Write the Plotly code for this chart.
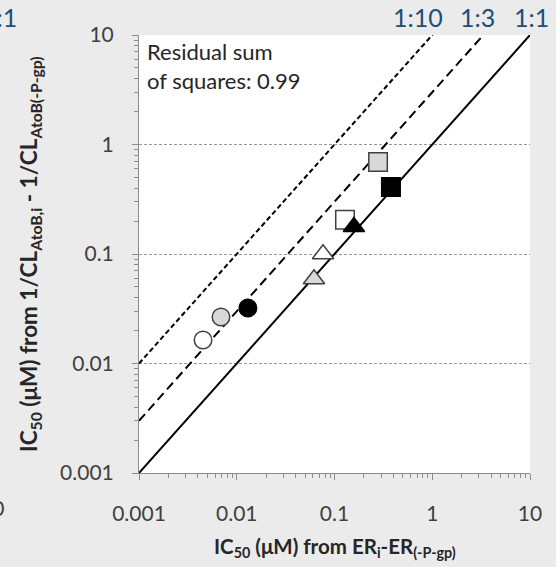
import plotly.graph_objects as go

# ---- data ----
circle_x = [0.00452, 0.0069, 0.0130]
circle_y = [0.0164, 0.0266, 0.0321]
triangle_x = [0.0617, 0.0763, 0.158]
triangle_y = [0.059, 0.100, 0.177]
square_x = [0.128, 0.378, 0.279]
square_y = [0.205, 0.409, 0.692]
fills = {"circle": ["white", "#d9d9d9", "black"],
         "triangle": ["#d9d9d9", "white", "black"],
         "square": ["white", "black", "#d9d9d9"]}

ratio_labels = ["1:10", "1:3", "1:1"]
ratios = [10, 3, 1]
ref_x = [0.001, 10]

tick_vals = [0.001, 0.01, 0.1, 1, 10]
tick_text = ["0.001", "0.01", "0.1", "1", "10"]
minor_vals = [m * 10 ** e for e in range(-3, 1) for m in range(2, 10)]

FONT = "Lato"
TICK_COLOR = "#404040"
BLUE = "#1f4e79"

fig = go.Figure()

dashes = {10: "5px,3px", 3: "9px,5px", 1: "solid"}
for r in ratios:
    fig.add_trace(go.Scatter(x=ref_x, y=[r * v for v in ref_x], mode="lines",
                             line=dict(color="black", width=2, dash=dashes[r]),
                             showlegend=False, hoverinfo="skip"))

def outline(f):
    return "black" if f == "black" else "#404040"

for name, xs, ys, sym, size in [("circle", circle_x, circle_y, "circle", 17.5),
                                ("square", square_x, square_y, "square", 18.5),
                                ("triangle", triangle_x, triangle_y, "triangle-up", 18.5)]:
    fig.add_trace(go.Scatter(x=xs, y=ys, mode="markers",
                             marker=dict(symbol=sym, size=size, color=fills[name],
                                         line=dict(color=[outline(f) for f in fills[name]], width=1.5)),
                             showlegend=False))

axis_common = dict(type="log", range=[-3, 1], tickvals=tick_vals, ticktext=tick_text,
                   ticks="outside", ticklen=6, tickcolor="#8c8c8c",
                   showline=True, linecolor="#8c8c8c", linewidth=1,
                   tickfont=dict(family=FONT, size=21, color=TICK_COLOR),
                   minor=dict(tickvals=minor_vals, ticks="outside", ticklen=4,
                              tickcolor="#8c8c8c", showgrid=False),
                   zeroline=False, mirror=False)

fig.update_xaxes(**axis_common, showgrid=False, ticklabelstandoff=16)
fig.update_yaxes(**axis_common, showgrid=True, gridcolor="#9a9a9a", griddash="3px,2px",
                 gridwidth=1, ticklabelstandoff=14)

W, H = 556, 567
L, R, T, B = 139, 26, 35, 94
pw, ph = W - L - R, H - T - B

def px(x):
    return (x - L) / pw

def py(y):
    return 1 - (y - T) / ph

annotations = []
# ratio labels above plot
for lab, cx in zip(ratio_labels, [418, 477, 531]):
    annotations.append(dict(text=lab, x=px(cx), y=py(17), xref="paper", yref="paper",
                            showarrow=False, xanchor="center", yanchor="middle",
                            font=dict(family=FONT, size=25, color=BLUE)))
# clipped neighbour panel remnants
annotations.append(dict(text="1:1", x=px(19), y=py(17), xref="paper", yref="paper",
                        showarrow=False, xanchor="right", yanchor="middle",
                        font=dict(family=FONT, size=25, color=BLUE)))
annotations.append(dict(text="10", x=px(6), y=py(507), xref="paper", yref="paper",
                        showarrow=False, xanchor="right", yanchor="middle",
                        font=dict(family=FONT, size=21, color=TICK_COLOR)))
# residual text
annotations.append(dict(text="Residual sum<br>of squares: 0.99", x=px(145), y=py(36),
                        xref="paper", yref="paper", showarrow=False, align="left",
                        xanchor="left", yanchor="top",
                        font=dict(family=FONT, size=22, color="#262626")))
# axis titles
annotations.append(dict(text="<b>IC<sub>50</sub> (μM) from ER<sub>i</sub>-ER<sub>(-P-gp)</sub></b>",
                        x=px(335), y=py(547), xref="paper", yref="paper", showarrow=False,
                        xanchor="center", yanchor="middle",
                        font=dict(family=FONT, size=20.5, color="#262626")))
annotations.append(dict(text="<b>IC<sub>50</sub> (μM) from 1/CL<sub>AtoB,i</sub> - 1/CL<sub>AtoB(-P-gp)</sub></b>",
                        x=px(30), y=py(254), xref="paper", yref="paper", showarrow=False,
                        xanchor="center", yanchor="middle", textangle=-90,
                        font=dict(family=FONT, size=22.5, color="#262626")))

fig.update_layout(width=W, height=H, margin=dict(l=L, r=R, t=T, b=B),
                  paper_bgcolor="#ebebeb", plot_bgcolor="white",
                  annotations=annotations, font=dict(family=FONT))

fig.write_html("out.html", config={"displayModeBar": False},
               post_script="document.body.style.margin='0';document.body.style.background='#ebebeb';")
